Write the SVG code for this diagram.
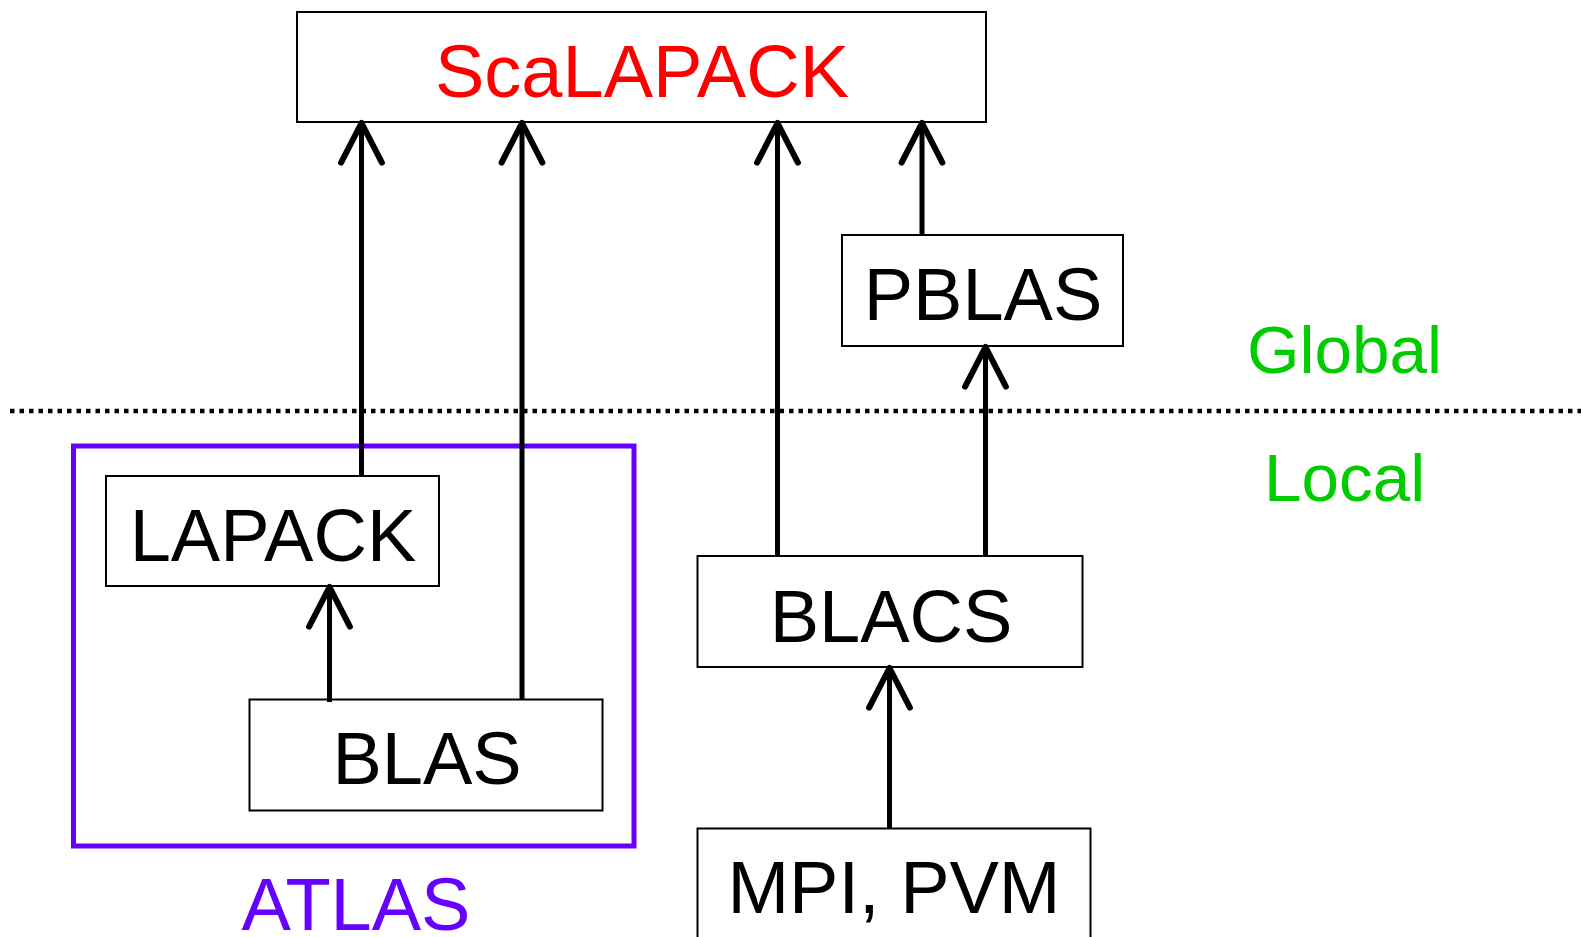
<svg xmlns="http://www.w3.org/2000/svg" width="1581" height="937" viewBox="0 0 1581 937">
<style>
.box{fill:#fff;stroke:#000;stroke-width:2}
.lbl{font-family:"Liberation Sans",Arial,sans-serif;font-size:74px;text-anchor:middle;fill:#000}
.conn{stroke:#000;stroke-width:5;fill:none}
.side{font-family:"Liberation Sans",Arial,sans-serif;font-size:67.5px;fill:#00cc00}
</style>
<defs>
<marker id="arr" markerUnits="userSpaceOnUse" orient="auto" refX="0" refY="0" markerWidth="60" markerHeight="60" viewBox="-40 -25 50 50" overflow="visible">
<path d="M-33,-17 L0,0 L-33,17" fill="none" stroke="#000" stroke-width="5" stroke-linecap="round" stroke-linejoin="round"/>
</marker>
</defs>
<rect width="1581" height="937" fill="#fff"/>
<line x1="10" y1="411" x2="1581" y2="411" stroke="#000" stroke-width="4.5" stroke-dasharray="4.5 5"/>
<g id="atlas">
<rect x="73.5" y="446" width="560.5" height="400" fill="none" stroke="#6600ff" stroke-width="5"/>
<text x="356" y="930" class="lbl" style="fill:#6600ff">ATLAS</text>
</g>
<g id="scalapack">
<rect class="box" x="297" y="12" width="689" height="110"/>
<text class="lbl" x="642" y="97" style="fill:#ff0000">ScaLAPACK</text>
</g>
<g id="pblas">
<rect class="box" x="842" y="235" width="281" height="111"/>
<text class="lbl" x="983" y="320">PBLAS</text>
</g>
<g id="lapack">
<rect class="box" x="106" y="476" width="333" height="110"/>
<text class="lbl" x="273" y="561">LAPACK</text>
</g>
<g id="blas">
<rect class="box" x="249.5" y="699.5" width="353" height="111"/>
<text class="lbl" x="427" y="784">BLAS</text>
</g>
<g id="blacs">
<rect class="box" x="697.5" y="556" width="385" height="111"/>
<text class="lbl" x="891" y="642">BLACS</text>
</g>
<g id="mpi">
<rect class="box" x="697.5" y="828.5" width="393" height="120"/>
<text class="lbl" x="894" y="913">MPI, PVM</text>
</g>
<g id="global"><text class="side" x="1247" y="373">Global</text></g>
<g id="local"><text class="side" x="1264" y="501">Local</text></g>
<g id="connectors">
<line class="conn" x1="361.5" y1="476" x2="361.5" y2="123" marker-end="url(#arr)"/>
<line class="conn" x1="522" y1="699" x2="522" y2="123" marker-end="url(#arr)"/>
<line class="conn" x1="777.5" y1="556" x2="777.5" y2="123" marker-end="url(#arr)"/>
<line class="conn" x1="922" y1="235" x2="922" y2="123" marker-end="url(#arr)"/>
<line class="conn" x1="985.5" y1="556" x2="985.5" y2="347" marker-end="url(#arr)"/>
<line class="conn" x1="329.5" y1="702" x2="329.5" y2="587" marker-end="url(#arr)"/>
<line class="conn" x1="889.5" y1="828" x2="889.5" y2="668" marker-end="url(#arr)"/>
</g>
</svg>
